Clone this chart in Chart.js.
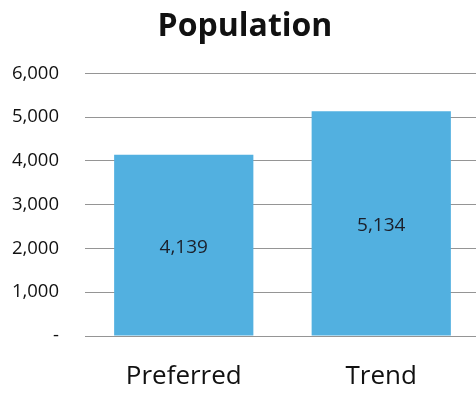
<!DOCTYPE html>
<html>
<head>
<meta charset="utf-8">
<script src="https://cdn.jsdelivr.net/npm/chart.js@4.4.1/dist/chart.umd.min.js"></script>
<style>
  html, body { margin: 0; padding: 0; background: #fff; overflow: hidden; }
  #wrap { width: 480px; height: 393px; }
</style>
</head>
<body>
<div id="wrap"><canvas id="c" width="480" height="393"></canvas></div>
<script>
const categories = ['Preferred', 'Trend'];
const population = [4139, 5134];
const tickValues = [0, 1000, 2000, 3000, 4000, 5000, 6000];

const fmt = v => v === 0 ? '-' : v.toLocaleString('en-US');

// Writes each bar's value in the middle of the bar
const barValueLabels = {
  id: 'barValueLabels',
  afterDatasetsDraw(chart) {
    const ctx = chart.ctx;
    const meta = chart.getDatasetMeta(0);
    ctx.save();
    ctx.font = '19px "Open Sans", sans-serif';
    ctx.fillStyle = '#1b1f2a';
    ctx.textAlign = 'center';
    ctx.textBaseline = 'middle';
    meta.data.forEach((bar, i) => {
      const v = chart.data.datasets[0].data[i];
      ctx.fillText(fmt(v), bar.x, (bar.y + bar.base) / 2 + 2);
    });
    ctx.restore();
  }
};

new Chart(document.getElementById('c'), {
  type: 'bar',
  data: {
    labels: categories,
    datasets: [{
      data: population,
      backgroundColor: '#52b0e0',
      borderWidth: 0,
      categoryPercentage: 0.705,
      barPercentage: 1.0
    }]
  },
  options: {
    responsive: false,
    animation: false,
    layout: { padding: { left: 10, right: 0, top: 8, bottom: 1 } },
    plugins: {
      legend: { display: false },
      tooltip: { enabled: false },
      title: {
        display: true,
        text: 'Population',
        color: '#111',
        font: { family: '"Open Sans", sans-serif', size: 32, weight: 'bold' },
        padding: { top: 0, bottom: 27 }
      }
    },
    scales: {
      x: {
        grid: { display: false, drawTicks: false },
        border: { display: false },
        afterFit(scale) { scale.height = 56; },
        ticks: {
          color: '#111',
          font: { family: '"Open Sans", sans-serif', size: 26 },
          padding: 25
        }
      },
      y: {
        min: 0,
        max: 6000,
        afterBuildTicks(scale) {
          scale.ticks = tickValues.map(v => ({ value: v }));
        },
        afterFit(scale) { scale.width = 75; },
        grid: { color: '#959595', lineWidth: 1, drawTicks: false },
        border: { display: false },
        ticks: {
          color: '#111',
          font: { family: '"Open Sans", sans-serif', size: 18.5 },
          padding: 26,
          callback: v => fmt(v)
        }
      }
    }
  },
  plugins: [barValueLabels]
});
</script>
</body>
</html>
